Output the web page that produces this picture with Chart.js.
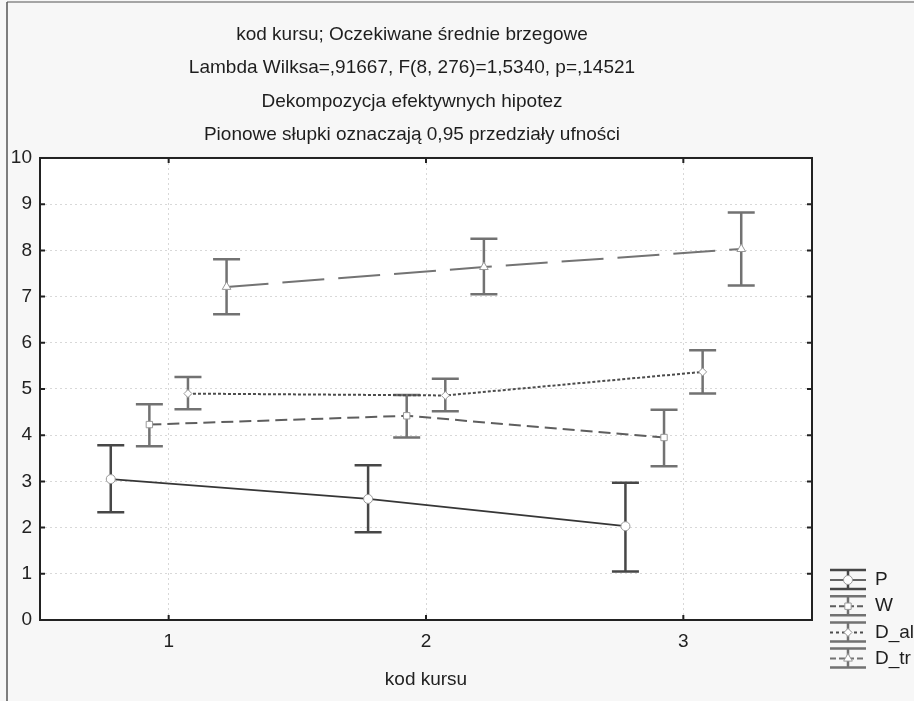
<!DOCTYPE html>
<html>
<head>
<meta charset="utf-8">
<title>kod kursu - Oczekiwane średnie brzegowe</title>
<script src="https://cdn.jsdelivr.net/npm/chart.js"></script>
<style>
  body { margin: 0; background: #f7f7f7; }
  #wrap { width: 914px; height: 701px; }
</style>
</head>
<body>
<div id="wrap"><canvas id="chart" width="914" height="701"></canvas></div>
<script>
// kod kursu categories and the four series (means with 0,95 CI ends)
const categories = [1, 2, 3];
const seriesNames = ['P', 'W', 'D_al', 'D_tr'];
const seriesShift = [-0.225, -0.075, 0.075, 0.225];

const pMean = [3.05, 2.62, 2.03];
const pLow = [2.33, 1.90, 1.05];
const pHigh = [3.78, 3.35, 2.97];

const wMean = [4.23, 4.42, 3.95];
const wLow = [3.76, 3.95, 3.33];
const wHigh = [4.67, 4.87, 4.55];

const dAlMean = [4.90, 4.86, 5.37];
const dAlLow = [4.56, 4.52, 4.90];
const dAlHigh = [5.26, 5.22, 5.84];

const dTrMean = [7.21, 7.64, 8.03];
const dTrLow = [6.62, 7.05, 7.24];
const dTrHigh = [7.81, 8.25, 8.82];

const titleLines = [
    'kod kursu; Oczekiwane średnie brzegowe',
    'Lambda Wilksa=,91667, F(8, 276)=1,5340, p=,14521',
    'Dekompozycja efektywnych hipotez',
    'Pionowe słupki oznaczają 0,95 przedziały ufności'
];

const means = [pMean, wMean, dAlMean, dTrMean];
const lows = [pLow, wLow, dAlLow, dTrLow];
const highs = [pHigh, wHigh, dAlHigh, dTrHigh];

const styles = [
    { color: '#363636', bar: '#474747', dash: [], width: 1.7, point: 'circle', r: 4.5 },
    { color: '#5e5e5e', bar: '#727272', dash: [12, 6], width: 2, point: 'rect', r: 4.5 },
    { color: '#4c4c4c', bar: '#727272', dash: [3, 2], width: 2, point: 'rectRot', r: 4 },
    { color: '#737373', bar: '#727272', dash: [42, 14], width: 2, point: 'triangle', r: 5 }
];

Chart.defaults.font.family = '"Liberation Sans", Arial, sans-serif';
Chart.defaults.color = '#222';

function marker(ctx, type, x, y, r) {
    ctx.save();
    ctx.setLineDash([]);
    ctx.fillStyle = '#fff';
    ctx.strokeStyle = '#999';
    ctx.lineWidth = 1;
    ctx.beginPath();
    if (type === 'circle') {
        ctx.arc(x, y, r, 0, Math.PI * 2);
    } else if (type === 'rect') {
        let s = r * Math.SQRT1_2;
        ctx.rect(x - s, y - s, 2 * s, 2 * s);
    } else if (type === 'rectRot') {
        ctx.moveTo(x, y - r); ctx.lineTo(x + r, y); ctx.lineTo(x, y + r); ctx.lineTo(x - r, y); ctx.closePath();
    } else {
        ctx.moveTo(x, y - r); ctx.lineTo(x + r * 0.87, y + r * 0.5); ctx.lineTo(x - r * 0.87, y + r * 0.5); ctx.closePath();
    }
    ctx.fill();
    ctx.stroke();
    ctx.restore();
}

const background = {
    id: 'background',
    beforeDraw(chart) {
        const { ctx, chartArea: a } = chart;
        ctx.save();
        ctx.fillStyle = '#f7f7f7';
        ctx.fillRect(0, 0, chart.width, chart.height);
        ctx.strokeStyle = '#8a8a8a';
        ctx.lineWidth = 1.5;
        ctx.beginPath(); ctx.moveTo(7, 2); ctx.lineTo(chart.width, 2); ctx.stroke();
        ctx.strokeStyle = '#555';
        ctx.beginPath(); ctx.moveTo(7, 2); ctx.lineTo(7, chart.height); ctx.stroke();
        ctx.fillStyle = '#fff';
        ctx.fillRect(a.left, a.top, a.right - a.left, a.bottom - a.top);
        ctx.restore();
    }
};

const errorBars = {
    id: 'errorBars',
    beforeDatasetsDraw(chart) {
        const { ctx, scales: { x, y } } = chart;
        ctx.save();
        ctx.setLineDash([]);
        ctx.lineWidth = 2.5;
        means.forEach((m, i) => {
            ctx.strokeStyle = styles[i].bar;
            categories.forEach((c, j) => {
                const px = x.getPixelForValue(c + seriesShift[i]);
                const lo = y.getPixelForValue(lows[i][j]);
                const hi = y.getPixelForValue(highs[i][j]);
                ctx.beginPath();
                ctx.moveTo(px, lo); ctx.lineTo(px, hi);
                ctx.moveTo(px - 13.5, lo); ctx.lineTo(px + 13.5, lo);
                ctx.moveTo(px - 13.5, hi); ctx.lineTo(px + 13.5, hi);
                ctx.stroke();
            });
        });
        ctx.restore();
    }
};

const frame = {
    id: 'frame',
    afterDatasetsDraw(chart) {
        const { ctx, chartArea: a, scales: { x, y } } = chart;
        ctx.save();
        ctx.setLineDash([]);
        ctx.strokeStyle = '#222';
        ctx.lineWidth = 2;
        ctx.strokeRect(a.left, a.top, a.right - a.left, a.bottom - a.top);
        ctx.beginPath();
        y.ticks.forEach(t => {
            const py = y.getPixelForValue(t.value);
            ctx.moveTo(a.left, py); ctx.lineTo(a.left + 5, py);
            ctx.moveTo(a.right, py); ctx.lineTo(a.right - 5, py);
        });
        x.ticks.forEach(t => {
            const px = x.getPixelForValue(t.value);
            ctx.moveTo(px, a.top); ctx.lineTo(px, a.top + 5);
            ctx.moveTo(px, a.bottom); ctx.lineTo(px, a.bottom - 5);
        });
        ctx.stroke();
        ctx.restore();
    }
};

const sideLegend = {
    id: 'sideLegend',
    afterDraw(chart) {
        const { ctx, chartArea: a } = chart;
        const x0 = a.right + 18, w = 36, xm = x0 + w / 2;
        ctx.save();
        ctx.font = '19px "Liberation Sans", Arial, sans-serif';
        ctx.textBaseline = 'middle';
        ctx.textAlign = 'left';
        seriesNames.forEach((name, i) => {
            const yc = a.bottom - 40 + i * 26.2;
            const st = styles[i];
            ctx.setLineDash([]);
            ctx.strokeStyle = st.bar;
            ctx.lineWidth = 2.5;
            ctx.beginPath();
            ctx.moveTo(x0, yc - 10); ctx.lineTo(x0 + w, yc - 10);
            ctx.moveTo(x0, yc + 9); ctx.lineTo(x0 + w, yc + 9);
            ctx.moveTo(xm, yc - 10); ctx.lineTo(xm, yc + 9);
            ctx.stroke();
            ctx.strokeStyle = st.color;
            ctx.lineWidth = st.width;
            ctx.setLineDash(st.dash.length ? [Math.min(st.dash[0], 6), 3] : []);
            ctx.beginPath();
            ctx.moveTo(x0, yc); ctx.lineTo(x0 + w, yc);
            ctx.stroke();
            marker(ctx, st.point, xm, yc, st.r);
            ctx.fillStyle = '#1e1e1e';
            ctx.fillText(name, x0 + w + 9, yc);
        });
        ctx.restore();
    }
};

const datasets = means.map((m, i) => ({
    label: seriesNames[i],
    data: categories.map((c, j) => ({ x: c + seriesShift[i], y: m[j] })),
    borderColor: styles[i].color,
    borderWidth: styles[i].width,
    borderDash: styles[i].dash,
    pointStyle: styles[i].point,
    pointRadius: styles[i].r,
    pointBackgroundColor: '#fff',
    pointBorderColor: '#999',
    pointBorderWidth: 1,
    tension: 0,
    fill: false
}));

new Chart(document.getElementById('chart'), {
    type: 'line',
    data: { datasets: datasets },
    options: {
        responsive: false,
        animation: false,
        events: [],
        layout: { padding: { left: 12, right: 102, top: 0, bottom: 0 } },
        plugins: {
            legend: { display: false },
            tooltip: { enabled: false },
            title: {
                display: true,
                text: titleLines,
                color: '#1e1e1e',
                font: { size: 19, weight: 'normal', lineHeight: 1.763 },
                padding: { top: 18, bottom: 6 }
            }
        },
        scales: {
            x: {
                type: 'linear',
                min: 0.5,
                max: 3.5,
                afterBuildTicks: s => { s.ticks = categories.map(v => ({ value: v })); },
                afterFit: s => { s.height = 81; },
                grid: { color: '#d8d8d8', lineWidth: 1, drawTicks: false },
                border: { display: false, dash: [2, 3] },
                ticks: { padding: 10.6, color: '#222', font: { size: 19 } },
                title: {
                    display: true,
                    text: 'kod kursu',
                    color: '#222',
                    font: { size: 19 },
                    padding: { top: 0, bottom: 9.6 }
                }
            },
            y: {
                min: 0,
                max: 10,
                afterFit: s => { s.width = 28; },
                grid: { color: '#d8d8d8', lineWidth: 1, drawTicks: false },
                border: { display: false, dash: [2, 3] },
                ticks: { stepSize: 1, padding: 8, color: '#222', font: { size: 19 } }
            }
        }
    },
    plugins: [background, errorBars, frame, sideLegend]
});
</script>
</body>
</html>
